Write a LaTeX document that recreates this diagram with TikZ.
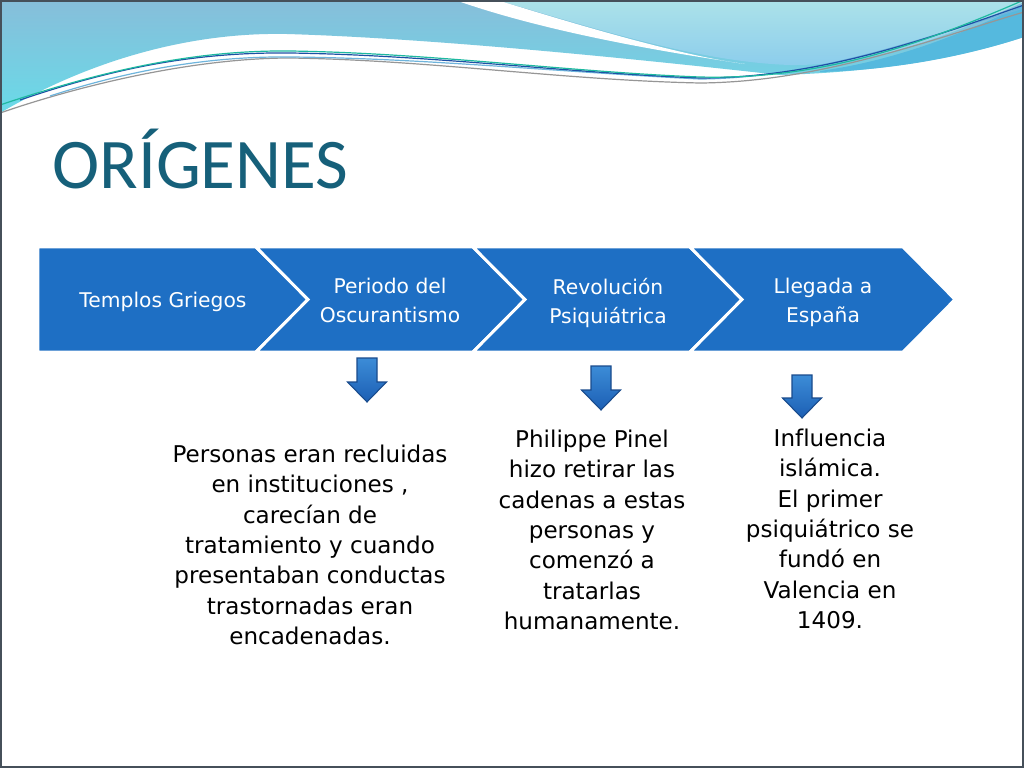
\documentclass[tikz,border=0pt]{standalone}
\usepackage{fontspec}
\setmainfont{DejaVu Sans}[Ligatures=CommonOff]
\newfontfamily\titlefont{Carlito}
\usepackage{xcolor}
\definecolor{chevblue}{RGB}{30,111,196}
\definecolor{arrowtop}{RGB}{60,140,215}
\definecolor{arrowbot}{RGB}{28,95,180}
\definecolor{arrowline}{RGB}{25,75,140}
\definecolor{titleteal}{RGB}{22,96,122}
\definecolor{wavetop}{RGB}{135,190,218}
\definecolor{wavebot}{RGB}{105,218,232}
\definecolor{lighttop}{RGB}{172,226,233}
\definecolor{lightbot}{RGB}{140,205,236}
\definecolor{stripcyan}{RGB}{85,185,222}
\definecolor{wteal}{RGB}{30,185,160}
\definecolor{wdark}{RGB}{30,80,165}
\definecolor{wlight}{RGB}{110,180,220}
\definecolor{wgray}{RGB}{150,150,150}
\definecolor{framegray}{RGB}{70,80,90}

\tikzset{
  chevron/.style={fill=chevblue, draw=white, line width=2.2pt, line join=miter},
  chevlabel/.style={text=white, align=center, inner sep=0pt, anchor=north,
    font=\fontsize{15.2}{21.75}\selectfont},
  bodytext/.style={text=black, align=center, inner sep=0pt, anchor=north,
    font=\fontsize{17.3}{22.8}\selectfont},
  downarrow/.style={draw=arrowline, line width=0.8pt, top color=arrowtop, bottom color=arrowbot},
  waveline/.style={line width=0.9pt}
}

\begin{document}
\begin{tikzpicture}[x=0.75pt,y=-0.75pt]
  \useasboundingbox (0,0) rectangle (1024,768);
  \fill[white] (0,0) rectangle (1024,768);

  % waves at the top
  \shade[top color=wavetop, bottom color=wavebot]
    (0,0) -- (1024,0) -- (1024,37) .. controls (960,58) and (880,72) .. (780,75)
    .. controls (600,55) and (420,38) .. (287,34)
    .. controls (190,32) and (90,60) .. (0,113) -- cycle;
  \shade[top color=lighttop, bottom color=lightbot]
    (497,0) -- (1024,0) -- (1024,2) .. controls (960,30) and (880,66) .. (790,65)
    .. controls (700,62) and (600,30) .. (497,0) -- cycle;
  \fill[white] (455,0) -- (497,0) .. controls (600,32) and (690,57) .. (745,64)
    .. controls (650,50) and (540,30) .. (455,0) -- cycle;
  \fill[stripcyan] (820,71) .. controls (900,60) and (970,30) .. (1024,5) -- (1024,37)
    .. controls (960,58) and (890,70) .. (820,72) -- cycle;
  \draw[waveline, wgray] (0,113) .. controls (90,82) and (200,58) .. (290,58)
    .. controls (430,60) and (560,80) .. (700,83) .. controls (820,82) and (930,40) .. (1024,12);
  \draw[waveline, wlight] (50,96) .. controls (130,70) and (210,56) .. (290,57)
    .. controls (420,58) and (560,72) .. (700,79) .. controls (820,78) and (930,35) .. (1024,8);
  \draw[waveline, wdark] (20,100) .. controls (120,66) and (200,52) .. (290,53)
    .. controls (430,55) and (570,73) .. (700,78) .. controls (820,78) and (930,38) .. (1024,5);
  \draw[waveline, wteal] (0,105) .. controls (110,68) and (200,50) .. (290,51)
    .. controls (430,53) and (570,72) .. (700,77) .. controls (820,80) and (920,45) .. (1024,0);

  % title
  \node[anchor=base west, text=titleteal, inner sep=0pt,
    font=\titlefont\fontsize{53.4}{60}\selectfont] (title) at (52,188) {ORÍGENES};

  % chevrons
  \filldraw[chevron] (38,247) -- (256,247) -- (308,299.5) -- (256,352) -- (38,352) -- cycle;
  \foreach \a/\b in {256/473, 473/690, 690/903}
    \filldraw[chevron] (\a,247) -- (\b,247) -- ({\b+52},299.5) -- (\b,352) -- (\a,352)
      -- ({\a+52},299.5) -- cycle;

  \node[chevlabel] (templos) at (163,291.6) {Templos Griegos};
  \node[chevlabel] (periodo) at (390,277.6) {Periodo del\\Oscurantismo};
  \node[chevlabel] (revol) at (608,277.6) {Revolución\\Psiquiátrica};
  \node[chevlabel] (llegada) at (823,277.6) {Llegada a\\España};

  % block arrows
  \foreach \cx/\ay/\hy/\ey in {367/358/382/402, 601/366/390/410, 802/375/398/418}
    \draw[downarrow] ({\cx-10},\ay) -- ({\cx+10},\ay) -- ({\cx+10},\hy) -- ({\cx+19.5},\hy)
      -- (\cx,\ey) -- ({\cx-19.5},\hy) -- ({\cx-10},\hy) -- cycle;

  % texts below
  \node[bodytext] (recluidas) at (310,444.5) {Personas eran recluidas\\en instituciones ,\\carecían de\\tratamiento y cuando\\presentaban conductas\\trastornadas eran\\encadenadas.};
  \node[bodytext] (pinel) at (592,429.5) {Philippe Pinel\\hizo retirar las\\cadenas a estas\\personas y\\comenzó a\\tratarlas\\humanamente.};
  \node[bodytext] (valencia) at (830,428.5) {Influencia\\islámica.\\El primer\\psiquiátrico se\\fundó en\\Valencia en\\1409.};

  % frame
  \draw[framegray, line width=1.2pt] (0.8,0.8) rectangle (1023.2,767.2);
\end{tikzpicture}
\end{document}
